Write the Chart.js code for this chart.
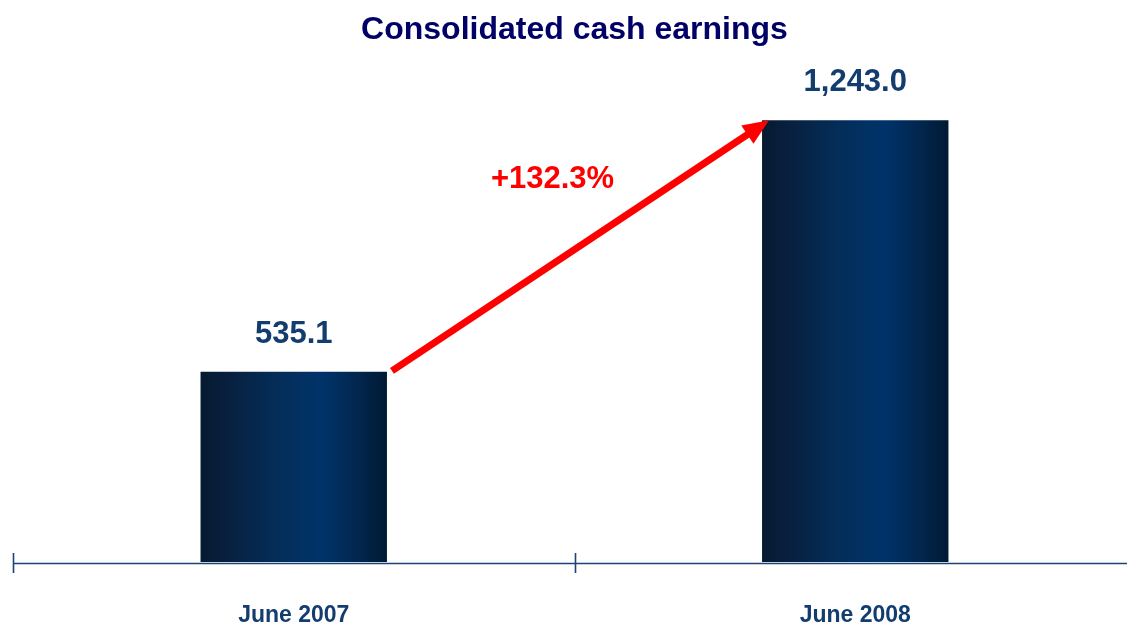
<!DOCTYPE html>
<html>
<head>
<meta charset="utf-8">
<style>
  html, body { margin: 0; padding: 0; overflow: hidden; background: #fff; }
  #wrap { width: 1140px; height: 625px; }
</style>
<script src="https://cdn.jsdelivr.net/npm/chart.js@4.4.1/dist/chart.umd.min.js"></script>
</head>
<body>
<div id="wrap"><canvas id="cashChart" width="1140" height="625"></canvas></div>
<script>
var categories = ['June 2007', 'June 2008'];
var cashEarnings = [535.1, 1243.0];
var yMax = 1400;

var FONT = "'Liberation Sans', Arial, sans-serif";
var NAVY = '#123d6e';

function barGradient(ctx) {
  var chart = ctx.chart;
  if (!chart.chartArea || !chart.scales.x) return '#012a55';
  var xs = chart.scales.x;
  var cx = xs.getPixelForValue(ctx.dataIndex);
  var half = (xs.width / categories.length) * 0.332 / 2;
  var g = chart.ctx.createLinearGradient(cx - half, 0, cx + half, 0);
  g.addColorStop(0, '#061a31');
  g.addColorStop(0.15, '#08203f');
  g.addColorStop(0.4, '#042d58');
  g.addColorStop(0.65, '#00336a');
  g.addColorStop(0.85, '#02264d');
  g.addColorStop(1, '#001a33');
  return g;
}

/* axis line + boundary ticks */
var axisPlugin = {
  id: 'axisLine',
  beforeDatasetsDraw: function (chart) {
    var c = chart.ctx, a = chart.chartArea, xs = chart.scales.x;
    var step = xs.width / categories.length;
    var y = a.bottom + 1.5;
    c.save();
    c.strokeStyle = '#1a4478';
    c.lineWidth = 1.6;
    c.beginPath();
    c.moveTo(a.left, y);
    c.lineTo(a.right, y);
    for (var i = 0; i <= categories.length; i++) {
      var x = Math.round(xs.getPixelForValue(0) - step / 2 + i * step) + 0.5;
      c.moveTo(x, a.bottom - 9);
      c.lineTo(x, a.bottom + 11);
    }
    c.stroke();
    c.restore();
  }
};

/* value labels, growth arrow and growth text */
var labelPlugin = {
  id: 'labels',
  afterDatasetsDraw: function (chart) {
    var c = chart.ctx;
    var bars = chart.getDatasetMeta(0).data;
    c.save();
    c.font = 'bold 31px ' + FONT;
    c.fillStyle = NAVY;
    c.textAlign = 'center';
    c.textBaseline = 'alphabetic';
    bars.forEach(function (b, i) {
      var txt = cashEarnings[i].toLocaleString('en-US', { minimumFractionDigits: 1, maximumFractionDigits: 1 });
      c.fillText(txt, b.x, b.y - 29);
    });

    var b0 = bars[0], b1 = bars[1];
    var x0 = b0.x + b0.width / 2 + 5, y0 = b0.y - 1;
    var x1 = b1.x - b1.width / 2 + 7, y1 = b1.y;
    var ang = Math.atan2(y1 - y0, x1 - x0);
    var headLen = 26, headHalf = 11;
    var bx = x1 - headLen * Math.cos(ang), by = y1 - headLen * Math.sin(ang);
    c.strokeStyle = '#ff0000';
    c.fillStyle = '#ff0000';
    c.lineWidth = 7;
    c.lineCap = 'butt';
    c.beginPath();
    c.moveTo(x0, y0);
    c.lineTo(bx + 2 * Math.cos(ang), by + 2 * Math.sin(ang));
    c.stroke();
    c.beginPath();
    c.moveTo(x1, y1);
    c.lineTo(bx + headHalf * Math.sin(ang), by - headHalf * Math.cos(ang));
    c.lineTo(bx - headHalf * Math.sin(ang), by + headHalf * Math.cos(ang));
    c.closePath();
    c.fill();

    var growth = (cashEarnings[1] / cashEarnings[0] - 1) * 100;
    c.textBaseline = 'middle';
    c.fillText('+' + growth.toFixed(1) + '%', (x0 + x1) / 2 - 28, (y0 + y1) / 2 - 66);
    c.restore();
  }
};

new Chart(document.getElementById('cashChart'), {
  type: 'bar',
  data: {
    labels: categories,
    datasets: [{
      label: 'Consolidated cash earnings',
      data: cashEarnings,
      backgroundColor: barGradient,
      borderWidth: 0,
      categoryPercentage: 1,
      barPercentage: 0.332
    }]
  },
  options: {
    responsive: false,
    animation: false,
    layout: { padding: { top: 0, left: 13, right: 4, bottom: 0 } },
    plugins: {
      legend: { display: false },
      tooltip: { enabled: false },
      title: {
        display: true,
        text: 'Consolidated cash earnings',
        color: '#000066',
        font: { family: FONT, size: 32, weight: 'bold', lineHeight: 1.2 },
        padding: { top: 11, bottom: 15 }
      }
    },
    scales: {
      x: {
        grid: { display: false },
        border: { display: false },
        afterFit: function (scale) { scale.height = 63; },
        ticks: {
          color: NAVY,
          padding: 34,
          font: { family: FONT, size: 23, weight: 'bold', lineHeight: 1 }
        }
      },
      y: { display: false, min: 0, max: yMax }
    }
  },
  plugins: [axisPlugin, labelPlugin]
});
</script>
</body>
</html>
